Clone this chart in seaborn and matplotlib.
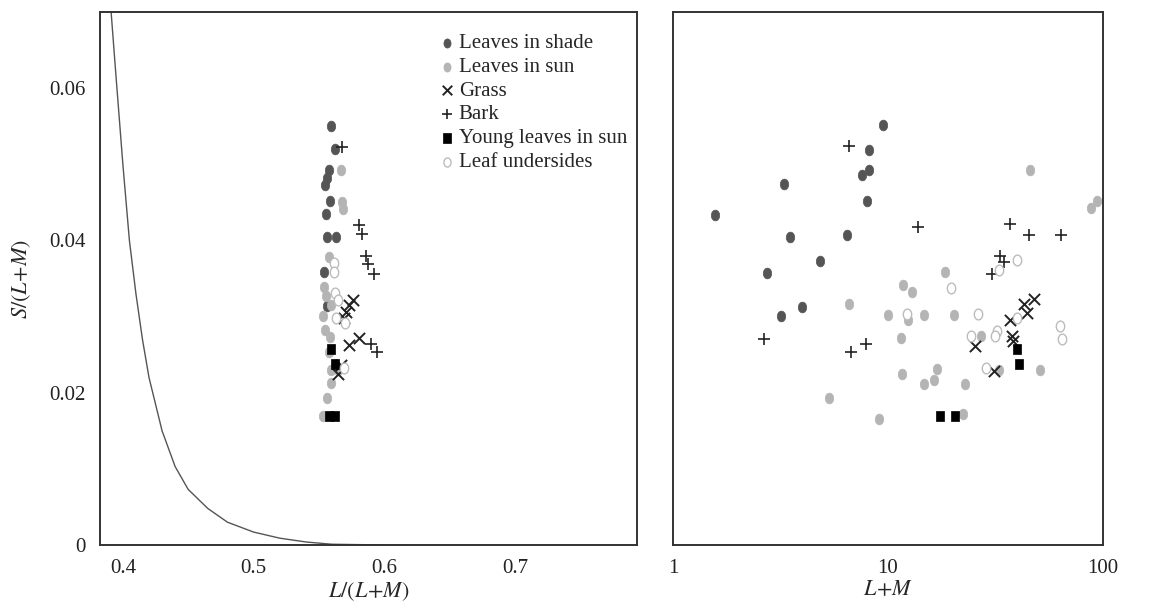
import matplotlib
matplotlib.use('Agg')
import matplotlib.pyplot as plt
import matplotlib.ticker as mticker
from matplotlib.path import Path
import numpy as np
import seaborn as sns

# ---- data ----
# left panel: L/(L+M) vs S/(L+M)
shade_lr = [0.5594, 0.5626, 0.5578, 0.5562, 0.5546, 0.5586, 0.5554, 0.5562, 0.5634, 0.5538, 0.5562]
shade_sl = [0.0550, 0.0520, 0.0492, 0.0482, 0.0473, 0.0452, 0.0435, 0.0405, 0.0405, 0.0358, 0.0314]
sun_lr = [0.5666, 0.5674, 0.5682, 0.5578, 0.5538, 0.5554, 0.5594, 0.5530, 0.5546, 0.5586,
          0.5578, 0.5594, 0.5594, 0.5562, 0.5530, 0.5650]
sun_sl = [0.0492, 0.0451, 0.0441, 0.0378, 0.0339, 0.0327, 0.0315, 0.0301, 0.0282, 0.0273,
          0.0254, 0.0230, 0.0213, 0.0193, 0.0169, 0.0230]
grass_lr = [0.5762, 0.5730, 0.5706, 0.5690, 0.5810, 0.5730, 0.5650, 0.5666]
grass_sl = [0.0322, 0.0315, 0.0306, 0.0298, 0.0272, 0.0263, 0.0224, 0.0237]
bark_lr = [0.5674, 0.5810, 0.5834, 0.5858, 0.5874, 0.5922, 0.5898, 0.5946]
bark_sl = [0.0523, 0.0420, 0.0408, 0.0379, 0.0369, 0.0356, 0.0264, 0.0254]
young_lr = [0.5594, 0.5626, 0.5580, 0.5620]
young_sl = [0.0258, 0.0238, 0.0169, 0.0169]
under_lr = [0.5618, 0.5618, 0.5626, 0.5650, 0.5634, 0.5698, 0.5690]
under_sl = [0.0371, 0.0358, 0.0331, 0.0322, 0.0298, 0.0292, 0.0233]

# boundary curve on the left panel
curve_lr = [0.391, 0.395, 0.400, 0.405, 0.410, 0.415, 0.420, 0.430, 0.440, 0.450,
            0.465, 0.480, 0.500, 0.520, 0.540, 0.560, 0.600, 0.620]
curve_sl = [0.070, 0.061, 0.050, 0.040, 0.033, 0.027, 0.022, 0.0150, 0.0103, 0.0073,
            0.0048, 0.0030, 0.0017, 0.0009, 0.0004, 0.0001, 0.0, 0.0]

# right panel: L+M vs S/(L+M)
shade_lum = [1.57, 3.27, 3.50, 2.73, 3.17, 3.97, 4.83, 6.47, 7.99, 7.55, 8.13, 8.13, 9.48]
shade_s = [0.0434, 0.0474, 0.0404, 0.0357, 0.0301, 0.0312, 0.0373, 0.0407, 0.0452, 0.0486,
           0.0492, 0.0519, 0.0551]
sun_lum = [11.7, 12.97, 6.56, 10.0, 12.35, 14.66, 11.46, 11.66, 14.77, 16.37, 16.85, 5.30,
           9.05, 45.8, 88.0, 94.0, 18.5, 20.2, 27.1, 22.8, 32.9, 50.9, 22.4]
sun_s = [0.0341, 0.0332, 0.0317, 0.0302, 0.0296, 0.0302, 0.0272, 0.0224, 0.0211, 0.0217,
         0.0231, 0.0193, 0.0166, 0.0492, 0.0443, 0.0452, 0.0358, 0.0302, 0.0274, 0.0211,
         0.0230, 0.0230, 0.0172]
grass_lum = [43.0, 47.8, 44.2, 36.9, 37.6, 38.0, 25.4, 31.1]
grass_s = [0.0317, 0.0323, 0.0305, 0.0296, 0.0274, 0.0268, 0.0262, 0.0228]
bark_lum = [6.59, 13.8, 2.64, 6.73, 7.93, 36.9, 45.4, 63.8, 33.2, 34.6, 30.4]
bark_s = [0.0524, 0.0417, 0.0271, 0.0253, 0.0264, 0.0421, 0.0407, 0.0407, 0.0379, 0.0372, 0.0356]
young_lum = [39.9, 40.7, 17.5, 20.5]
young_s = [0.0258, 0.0238, 0.0169, 0.0169]
under_lum = [12.22, 39.7, 32.8, 19.6, 26.3, 39.9, 24.2, 32.0, 31.6, 63.1, 64.7, 28.6]
under_s = [0.0304, 0.0374, 0.0361, 0.0337, 0.0304, 0.0298, 0.0275, 0.0281, 0.0274, 0.0288,
           0.0270, 0.0232]

labels = ['Leaves in shade', 'Leaves in sun', 'Grass', 'Bark', 'Young leaves in sun', 'Leaf undersides']

sns.set_style('white')
plt.rcParams['font.family'] = ['Liberation Serif', 'DejaVu Serif']
plt.rcParams['mathtext.fontset'] = 'stix'

# slightly tall oval dots, like the printed figure
t = np.linspace(0, 2 * np.pi, 41)
oval = Path(np.column_stack([0.78 * np.cos(t), np.sin(t)]), closed=True)
tall_sq = Path([(-0.8, -1), (0.8, -1), (0.8, 1), (-0.8, 1), (-0.8, -1)], closed=True)

styles = {
    'Leaves in shade': dict(marker=oval, color='#555555', edgecolor='#555555', s=60, linewidth=0.5),
    'Leaves in sun': dict(marker=oval, color='#b4b4b4', edgecolor='#b4b4b4', s=60, linewidth=0.5),
    'Grass': dict(marker='x', color='#222222', s=65, linewidth=1.4),
    'Bark': dict(marker='+', color='#222222', s=65, linewidth=1.2),
    'Young leaves in sun': dict(marker=tall_sq, color='#000000', edgecolor='#000000', s=60, linewidth=0.5),
    'Leaf undersides': dict(marker=oval, color='white', edgecolor='#bcbcbc', s=60, linewidth=1.0),
}

left_sets = [(shade_lr, shade_sl), (sun_lr, sun_sl), (grass_lr, grass_sl),
             (bark_lr, bark_sl), (young_lr, young_sl), (under_lr, under_sl)]
right_sets = [(shade_lum, shade_s), (sun_lum, sun_s), (grass_lum, grass_s),
              (bark_lum, bark_s), (young_lum, young_s), (under_lum, under_s)]

fig = plt.figure(figsize=(11.71, 6.10), dpi=100)
ax1 = fig.add_axes([100 / 1171, 65 / 610, 537 / 1171, 533 / 610])
ax2 = fig.add_axes([673 / 1171, 65 / 610, 430 / 1171, 533 / 610])

# left panel
sns.lineplot(x=curve_lr, y=curve_sl, ax=ax1, color='#555555', linewidth=1.0, sort=False)
for lab, (xs, ys) in zip(labels, left_sets):
    sns.scatterplot(x=xs, y=ys, ax=ax1, label=lab, **styles[lab])

# right panel
for lab, (xs, ys) in zip(labels, right_sets):
    sns.scatterplot(x=xs, y=ys, ax=ax2, legend=False, **styles[lab])

for ax in (ax1, ax2):
    ax.set_ylim(0, 0.07)
    for sp in ax.spines.values():
        sp.set_visible(True)
        sp.set_linewidth(1.4)
        sp.set_color('#333333')

ax1.set_xlim(0.3825, 0.7935)
ax1.xaxis.set_major_locator(mticker.FixedLocator([0.4, 0.5, 0.6, 0.7]))
ax1.xaxis.set_minor_locator(mticker.FixedLocator([0.45, 0.55, 0.65, 0.75]))
ax1.xaxis.set_major_formatter(mticker.FixedFormatter(['0.4', '0.5', '0.6', '0.7']))
ax1.yaxis.set_major_locator(mticker.FixedLocator([0, 0.02, 0.04, 0.06]))
ax1.yaxis.set_minor_locator(mticker.FixedLocator([0.01, 0.03, 0.05]))
ax1.yaxis.set_major_formatter(mticker.FixedFormatter(['0', '0.02', '0.04', '0.06']))
ax1.tick_params(axis='x', which='both', direction='in', length=6, width=1.2,
                labelsize=15, pad=10, colors='#222222')
ax1.tick_params(axis='y', which='both', direction='out', length=6, width=1.2,
                labelsize=15, pad=4, colors='#222222')
ax1.set_xlabel(r'$L/(L\!+\!M)$', fontsize=16, labelpad=2)
ax1.set_ylabel(r'$S/(L\!+\!M)$', fontsize=16, labelpad=12)

ax2.set_xscale('log')
ax2.set_xlim(1, 100)
ax2.xaxis.set_major_locator(mticker.FixedLocator([1, 10, 100]))
ax2.xaxis.set_major_formatter(mticker.FixedFormatter(['1', '10', '100']))
ax2.xaxis.set_minor_locator(mticker.LogLocator(base=10, subs=range(2, 10)))
ax2.xaxis.set_minor_formatter(mticker.NullFormatter())
ax2.yaxis.set_major_locator(mticker.FixedLocator([0.01, 0.02, 0.03, 0.04, 0.05, 0.06]))
ax2.yaxis.set_major_formatter(mticker.NullFormatter())
ax2.tick_params(axis='both', which='both', direction='in', length=6, width=1.2,
                labelsize=15, pad=10, colors='#222222')
ax2.tick_params(axis='y', which='both', labelleft=False)
ax2.set_xlabel(r'$L\!+\!M$', fontsize=16, labelpad=2)
ax2.set_ylabel('')

ax1.legend(loc='upper left', bbox_to_anchor=(0.612, 0.975), frameon=False,
           fontsize=15, handletextpad=0.05, labelspacing=0.2, borderaxespad=0,
           handlelength=1.0, markerscale=0.85)

fig.savefig('out.png', dpi=100)
